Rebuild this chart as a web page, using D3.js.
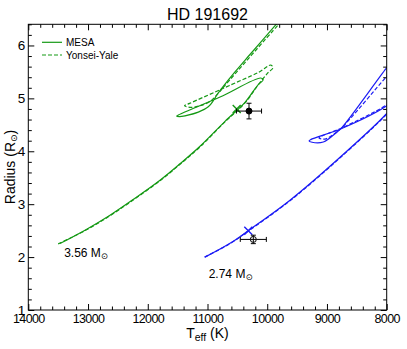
<!DOCTYPE html>
<html>
<head>
<meta charset="utf-8">
<script src="https://cdn.jsdelivr.net/npm/d3@7"></script>
<style>
  body { margin: 0; background: #fff; }
  svg { font-family: "Liberation Sans", Arial, sans-serif; }
</style>
</head>
<body>
<svg id="chart" width="407" height="349"></svg>
<script>
// evolutionary tracks, [Teff (K), Radius (Rsun)]
var mesa356 = [
	[13469, 2.258], [13051, 2.509], [12632, 2.792], [12214, 3.113], [11795, 3.453],
	[11460, 3.764], [11125, 4.094], [10707, 4.566], [10372, 4.925], [10154, 5.257],
	[10068, 5.35], [10110, 5.385],
	[10790, 5.025], [11480, 4.69], [11516, 4.665], [11470, 4.655], [11377, 4.67],
	[11154, 4.74], [10987, 4.84], [10900, 4.96], [10846, 5.06], [10720, 5.25],
	[10540, 5.50], [10300, 5.815], [9858, 6.39], [9700, 6.6]
];
var yy356 = [
	[13500, 2.25], [13051, 2.50], [12632, 2.782], [12214, 3.103], [11795, 3.443],
	[11460, 3.754], [11125, 4.084], [10707, 4.556], [10372, 4.915], [10154, 5.25],
	[9990, 5.48], [9905, 5.58],
	[9940, 5.63], [10149, 5.49], [10640, 5.24], [10874, 5.12], [11300, 4.905],
	[11385, 4.86], [11293, 4.83], [11126, 4.86], [10958, 4.94], [10824, 5.09],
	[10707, 5.245], [9815, 6.39], [9652, 6.59]
];
var mesa274 = [
	[11042, 2.00], [10623, 2.26], [10317, 2.50], [9619, 3.075], [8837, 3.83],
	[8012, 4.70], [7860, 4.92], [7743, 5.0], [7830, 5.03], [8012, 4.85],
	[8753, 4.43], [9272, 4.22], [9300, 4.195], [9250, 4.17], [9061, 4.175],
	[8837, 4.36], [8748, 4.45], [8012, 5.56], [7860, 5.77]
];
var yy274 = [
	[11050, 2.00], [10630, 2.25], [10320, 2.49], [9619, 3.065], [8837, 3.82],
	[8012, 4.69], [7860, 4.91], [7743, 5.0], [7830, 5.04], [8012, 4.87],
	[8753, 4.44], [9117, 4.27], [9133, 4.25], [9033, 4.23], [8866, 4.34],
	[8748, 4.45], [8012, 5.40], [7861, 5.585]
];

// observed stars: Teff, errT, R, errR
var stars = [
	{ name: 'primary', teff: 10305, errT: 210, r: 4.76, errR: 0.148, filled: true },
	{ name: 'secondary', teff: 10233, errT: 218, r: 2.334, errR: 0.08, filled: false }
];
// model position at the age of the system
var markers = [
	{ teff: 10511, r: 4.80, color: 'green' },
	{ teff: 10317, r: 2.50, color: 'blue' }
];
var massLabels = [
	{ text: '3.56 M', teff: 13400, r: 2.0 },
	{ text: '2.74 M', teff: 10980, r: 1.61 }
];
var legendItems = ['MESA', 'Yonsei-Yale'];

var xMajor = [14000, 13000, 12000, 11000, 10000, 9000, 8000];
var yMajor = [1, 2, 3, 4, 5, 6];

var green = '#159915';
var blue = '#1c1cf5';

var plotL = 28.3, plotR = 386.7, plotT = 24.3, plotB = 310;

var svg = d3.select('#chart');

var x = d3.scaleLinear().domain([14000, 8000]).range([plotL, plotR]);
var y = d3.scaleLinear().domain([1, 6.4]).range([plotB, plotT]);

var xMinor = d3.range(8000, 14001, 200).filter(function(v) { return v % 1000 !== 0; });
var yMinor = d3.range(1, 6.41, 0.2).map(function(v) { return Math.round(v * 10) / 10; })
	.filter(function(v) { return Math.abs(v - Math.round(v)) > 0.01; });

svg.append('clipPath').attr('id', 'plotclip')
	.append('rect')
	.attr('x', plotL).attr('y', plotT)
	.attr('width', plotR - plotL).attr('height', plotB - plotT);

/* tracks */
var lineGenerator = d3.line()
	.x(function(d) { return x(d[0]); })
	.y(function(d) { return y(d[1]); })
	.curve(d3.curveCatmullRom.alpha(0.5));

var tracks = [
	{ data: mesa356, color: green, dash: null },
	{ data: yy356, color: green, dash: '4,2' },
	{ data: mesa274, color: blue, dash: null },
	{ data: yy274, color: blue, dash: '4,2' }
];

var g = svg.append('g').attr('clip-path', 'url(#plotclip)');

g.selectAll('.track')
	.data(tracks)
	.enter().append('path')
	.attr('class', 'track')
	.attr('d', function(d) { return lineGenerator(d.data); })
	.attr('fill', 'none')
	.attr('stroke', function(d) { return d.color; })
	.attr('stroke-width', 1.2)
	.attr('stroke-dasharray', function(d) { return d.dash; });

/* X markers on the tracks */
g.selectAll('.marker')
	.data(markers)
	.enter().append('path')
	.attr('class', 'marker')
	.attr('d', function(d) {
		var px = x(d.teff), py = y(d.r), s = 4;
		return 'M' + (px - s) + ',' + (py - s) + 'L' + (px + s) + ',' + (py + s) +
			'M' + (px - s) + ',' + (py + s) + 'L' + (px + s) + ',' + (py - s);
	})
	.attr('stroke', function(d) { return d.color === 'green' ? green : blue; })
	.attr('stroke-width', 1.4);

/* observed stars with error bars */
var starG = svg.selectAll('.star')
	.data(stars)
	.enter().append('g')
	.attr('class', 'star');

starG.append('path')
	.attr('d', function(d) {
		var x0 = x(d.teff - d.errT), x1 = x(d.teff + d.errT);
		var y0 = y(d.r - d.errR), y1 = y(d.r + d.errR);
		var cx = x(d.teff), cy = y(d.r), c = 2.5;
		return 'M' + x0 + ',' + cy + 'L' + x1 + ',' + cy +
			'M' + x0 + ',' + (cy - c) + 'L' + x0 + ',' + (cy + c) +
			'M' + x1 + ',' + (cy - c) + 'L' + x1 + ',' + (cy + c) +
			'M' + cx + ',' + y0 + 'L' + cx + ',' + y1 +
			'M' + (cx - c) + ',' + y0 + 'L' + (cx + c) + ',' + y0 +
			'M' + (cx - c) + ',' + y1 + 'L' + (cx + c) + ',' + y1;
	})
	.attr('stroke', '#000')
	.attr('stroke-width', 1)
	.attr('fill', 'none');

starG.append('circle')
	.attr('cx', function(d) { return x(d.teff); })
	.attr('cy', function(d) { return y(d.r); })
	.attr('r', 3)
	.attr('fill', function(d) { return d.filled ? '#000' : '#fff'; })
	.attr('stroke', '#000')
	.attr('stroke-width', 1);

starG.filter(function(d) { return !d.filled; })
	.append('path')
	.attr('d', function(d) {
		var cx = x(d.teff), cy = y(d.r);
		return 'M' + (cx - 3) + ',' + cy + 'L' + (cx + 3) + ',' + cy +
			'M' + cx + ',' + (cy - 3) + 'L' + cx + ',' + (cy + 3);
	})
	.attr('stroke', '#000')
	.attr('stroke-width', 1);

/* mass labels */
var ml = svg.selectAll('.mass')
	.data(massLabels)
	.enter().append('text')
	.attr('class', 'mass')
	.attr('x', function(d) { return x(d.teff); })
	.attr('y', function(d) { return y(d.r); })
	.attr('font-size', 12)
	.attr('fill', '#000');
ml.append('tspan').text(function(d) { return d.text; });
ml.append('tspan').attr('dy', 2).attr('font-size', 8.5)
	.attr('font-family', 'DejaVu Sans').text('\u2299');

/* axes */
function styleAxis(sel) {
	sel.select('.domain').remove();
	sel.selectAll('line').attr('stroke', '#000').attr('stroke-width', 1);
	sel.selectAll('text').attr('fill', '#000').attr('font-size', 12.5)
		.attr('font-family', '"Liberation Sans", Arial, sans-serif');
}

svg.append('g').attr('transform', 'translate(0,' + plotB + ')')
	.call(d3.axisBottom(x).tickValues(xMajor).tickSize(-6).tickPadding(4)
		.tickFormat(d3.format('d')))
	.call(styleAxis)
	.selectAll('text').attr('letter-spacing', -0.6);
svg.append('g').attr('transform', 'translate(0,' + plotB + ')')
	.call(d3.axisBottom(x).tickValues(xMinor).tickSize(-3.5).tickFormat(''))
	.call(styleAxis);
svg.append('g').attr('transform', 'translate(0,' + plotT + ')')
	.call(d3.axisTop(x).tickValues(xMajor).tickSize(-6).tickFormat(''))
	.call(styleAxis);
svg.append('g').attr('transform', 'translate(0,' + plotT + ')')
	.call(d3.axisTop(x).tickValues(xMinor).tickSize(-3.5).tickFormat(''))
	.call(styleAxis);

svg.append('g').attr('transform', 'translate(' + plotL + ',0)')
	.call(d3.axisLeft(y).tickValues(yMajor).tickSize(-6).tickPadding(3)
		.tickFormat(d3.format('d')))
	.call(styleAxis)
	.selectAll('text').attr('font-size', 13.5);
svg.append('g').attr('transform', 'translate(' + plotL + ',0)')
	.call(d3.axisLeft(y).tickValues(yMinor).tickSize(-3.5).tickFormat(''))
	.call(styleAxis);
svg.append('g').attr('transform', 'translate(' + plotR + ',0)')
	.call(d3.axisRight(y).tickValues(yMajor).tickSize(-6).tickFormat(''))
	.call(styleAxis);
svg.append('g').attr('transform', 'translate(' + plotR + ',0)')
	.call(d3.axisRight(y).tickValues(yMinor).tickSize(-3.5).tickFormat(''))
	.call(styleAxis);

svg.append('rect')
	.attr('x', plotL).attr('y', plotT)
	.attr('width', plotR - plotL).attr('height', plotB - plotT)
	.attr('fill', 'none').attr('stroke', '#000').attr('stroke-width', 1);

/* title and axis labels */
svg.append('text')
	.attr('x', (plotL + plotR) / 2).attr('y', 20)
	.attr('text-anchor', 'middle').attr('font-size', 16)
	.text('HD 191692');

var xl = svg.append('text')
	.attr('x', (plotL + plotR) / 2).attr('y', 338)
	.attr('text-anchor', 'middle').attr('font-size', 14);
xl.append('tspan').text('T');
xl.append('tspan').attr('dy', 3).attr('font-size', 10.5).text('eff');
xl.append('tspan').attr('dy', -3).text(' (K)');

var yl = svg.append('text')
	.attr('transform', 'translate(15,' + 167 + ') rotate(-90)')
	.attr('text-anchor', 'middle').attr('font-size', 14);
yl.append('tspan').text('Radius (R');
yl.append('tspan').attr('dy', 2).attr('font-size', 9)
	.attr('font-family', 'DejaVu Sans').text('\u2299');
yl.append('tspan').attr('dy', -2).text(')');

/* legend */
var legend = svg.selectAll('.legend')
	.data(legendItems)
	.enter().append('g')
	.attr('class', 'legend')
	.attr('transform', function(d, i) { return 'translate(42,' + (42.3 + i * 12.7) + ')'; });
legend.append('line')
	.attr('x1', 0).attr('x2', 20)
	.attr('stroke', green).attr('stroke-width', 1.2)
	.attr('stroke-dasharray', function(d, i) { return i ? '4,2' : null; });
legend.append('text')
	.attr('x', 24).attr('y', 3.5)
	.attr('font-size', 10)
	.text(function(d) { return d; });
</script>
</body>
</html>
